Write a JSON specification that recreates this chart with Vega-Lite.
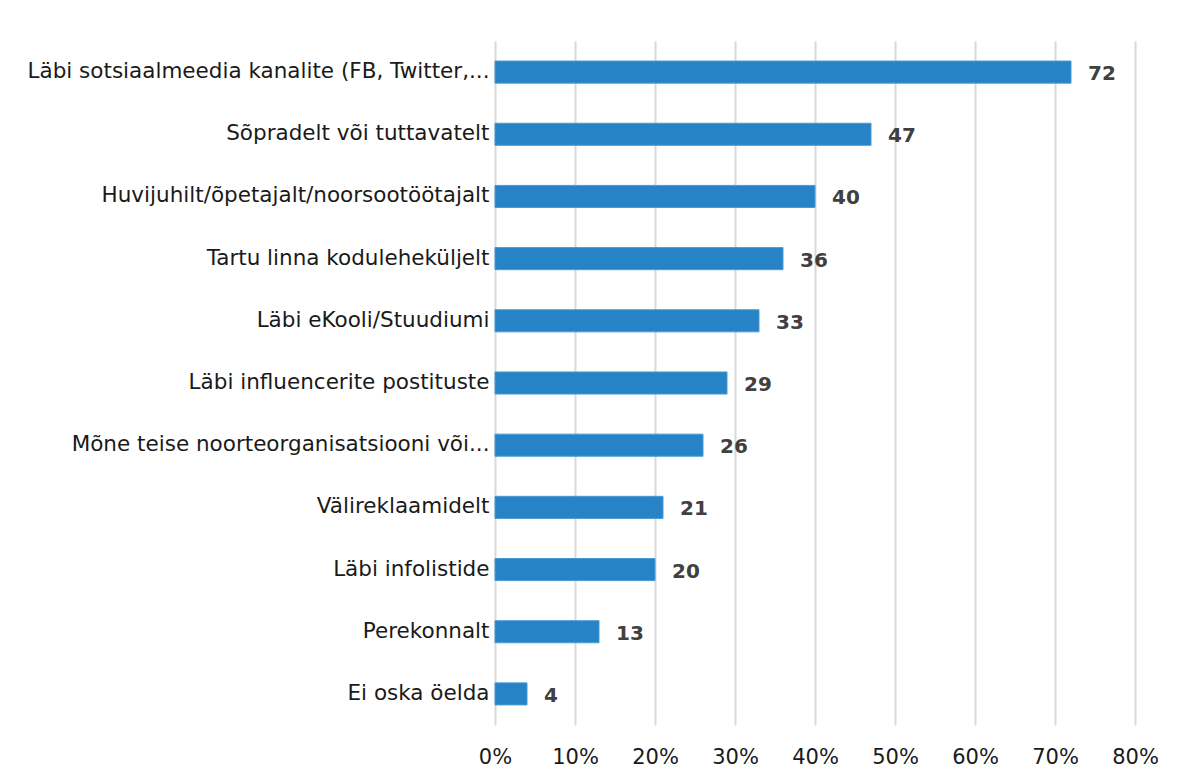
{
  "$schema": "https://vega.github.io/schema/vega-lite/v6.json",
  "width": 640,
  "height": 684,
  "autosize": "none",
  "padding": {"left": 495, "top": 41, "right": 42, "bottom": 57},
  "background": "white",
  "config": {
    "view": {"stroke": null},
    "font": "DejaVu Sans"
  },
  "data": {
    "values": [
      {"kanal": "Läbi sotsiaalmeedia kanalite (FB, Twitter,...", "protsent": 72},
      {"kanal": "Sõpradelt või tuttavatelt", "protsent": 47},
      {"kanal": "Huvijuhilt/õpetajalt/noorsootöötajalt", "protsent": 40},
      {"kanal": "Tartu linna koduleheküljelt", "protsent": 36},
      {"kanal": "Läbi eKooli/Stuudiumi", "protsent": 33},
      {"kanal": "Läbi influencerite postituste", "protsent": 29},
      {"kanal": "Mõne teise noorteorganisatsiooni või...", "protsent": 26},
      {"kanal": "Välireklaamidelt", "protsent": 21},
      {"kanal": "Läbi infolistide", "protsent": 20},
      {"kanal": "Perekonnalt", "protsent": 13},
      {"kanal": "Ei oska öelda", "protsent": 4}
    ]
  },
  "encoding": {
    "y": {
      "field": "kanal",
      "type": "nominal",
      "sort": null,
      "scale": {"paddingInner": 0.645, "paddingOuter": 0.3225},
      "axis": {
        "title": null,
        "domain": false,
        "ticks": false,
        "labelPadding": 6,
        "labelFontSize": 21.5,
        "labelColor": "#1a1a1a",
        "labelFont": "DejaVu Sans",
        "labelLimit": 600
      }
    },
    "x": {
      "field": "protsent",
      "type": "quantitative",
      "scale": {"domain": [0, 80], "nice": false},
      "axis": {
        "title": null,
        "values": [0, 10, 20, 30, 40, 50, 60, 70, 80],
        "labelExpr": "datum.value + '%'",
        "labelFlush": false,
        "labelOverlap": false,
        "domain": false,
        "ticks": false,
        "grid": true,
        "gridColor": "#d9d9d9",
        "gridWidth": 2,
        "labelPadding": 21,
        "labelFontSize": 21,
        "labelColor": "#1a1a1a",
        "labelFont": "DejaVu Sans"
      }
    }
  },
  "layer": [
    {
      "mark": {"type": "bar", "color": "#2683c6", "stroke": "#4a9ad6", "strokeWidth": 1}
    },
    {
      "mark": {
        "type": "text",
        "align": "left",
        "baseline": "middle",
        "dx": 17,
        "dy": 2,
        "fontSize": 20,
        "fontWeight": "bold",
        "color": "#404040",
        "font": "DejaVu Sans"
      },
      "encoding": {"text": {"field": "protsent", "type": "quantitative"}}
    }
  ]
}
